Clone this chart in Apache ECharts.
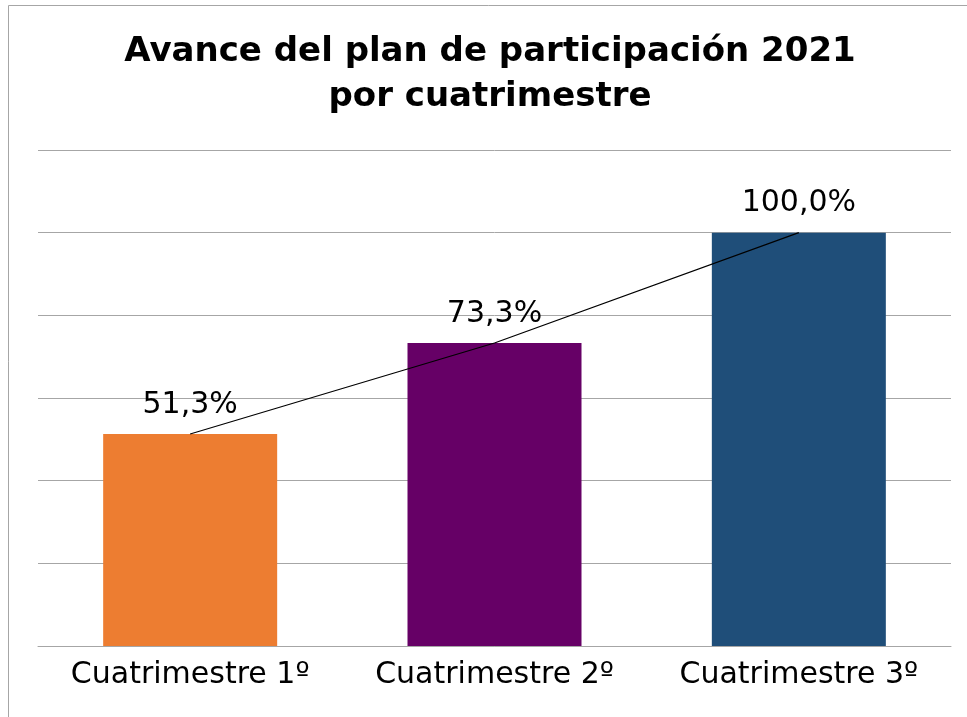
<!DOCTYPE html>
<html>
<head>
<meta charset="utf-8">
<script src="https://cdn.jsdelivr.net/npm/echarts@6/dist/echarts.min.js"></script>
<style>
  html, body { margin: 0; padding: 0; background: #ffffff; }
  #chart { width: 967px; height: 717px; }
</style>
</head>
<body>
<div id="chart"></div>
<script>
// datos del gráfico
var cuatrimestres = ['Cuatrimestre 1º', 'Cuatrimestre 2º', 'Cuatrimestre 3º'];
var avance = [51.3, 73.3, 100.0];
var colores = ['#ED7D31', '#660066', '#1F4E79'];

var chart = echarts.init(document.getElementById('chart'));

var barData = [];
for (var i = 0; i < avance.length; i++) {
    barData[i] = { value: avance[i], itemStyle: { color: colores[i] } };
}

var option = {
    animation: false,
    backgroundColor: '#ffffff',
    title: {
        text: 'Avance del plan de participación 2021\npor cuatrimestre',
        left: 490,
        top: 30,
        textAlign: 'center',
        padding: 0,
        textStyle: {
            fontFamily: 'DejaVu Sans',
            fontWeight: 'bold',
            fontSize: 34,
            lineHeight: 45,
            color: '#000000'
        }
    },
    graphic: [{
        type: 'rect',
        shape: { x: 8.5, y: 5.5, width: 1000, height: 1000 },
        style: { fill: 'none', stroke: '#A6A6A6', lineWidth: 1 },
        silent: true
    }],
    grid: { left: 38, right: 16, top: 150, bottom: 71 },
    xAxis: {
        type: 'category',
        data: cuatrimestres,
        axisTick: { show: false },
        axisLine: { lineStyle: { color: '#A6A6A6', width: 1 } },
        axisLabel: {
            interval: 0,
            hideOverlap: false,
            margin: 14,
            color: '#000000',
            fontFamily: 'DejaVu Sans',
            fontSize: 30
        }
    },
    yAxis: {
        type: 'value',
        min: 0,
        max: 120,
        interval: 20,
        axisLabel: { show: false },
        axisLine: { show: false },
        axisTick: { show: false },
        splitLine: { lineStyle: { color: '#A6A6A6', width: 1 } }
    },
    series: [
        {
            name: 'Avance',
            type: 'bar',
            barWidth: 174,
            data: barData,
            label: {
                show: true,
                position: 'top',
                distance: 14,
                color: '#000000',
                fontFamily: 'DejaVu Sans',
                fontSize: 30,
                formatter: function (p) {
                    return p.value.toFixed(1).replace('.', ',') + '%';
                }
            }
        },
        {
            name: 'Tendencia',
            type: 'line',
            data: avance,
            symbol: 'none',
            z: 5,
            lineStyle: { color: '#000000', width: 1.2 }
        }
    ]
};
chart.setOption(option);
</script>
</body>
</html>
